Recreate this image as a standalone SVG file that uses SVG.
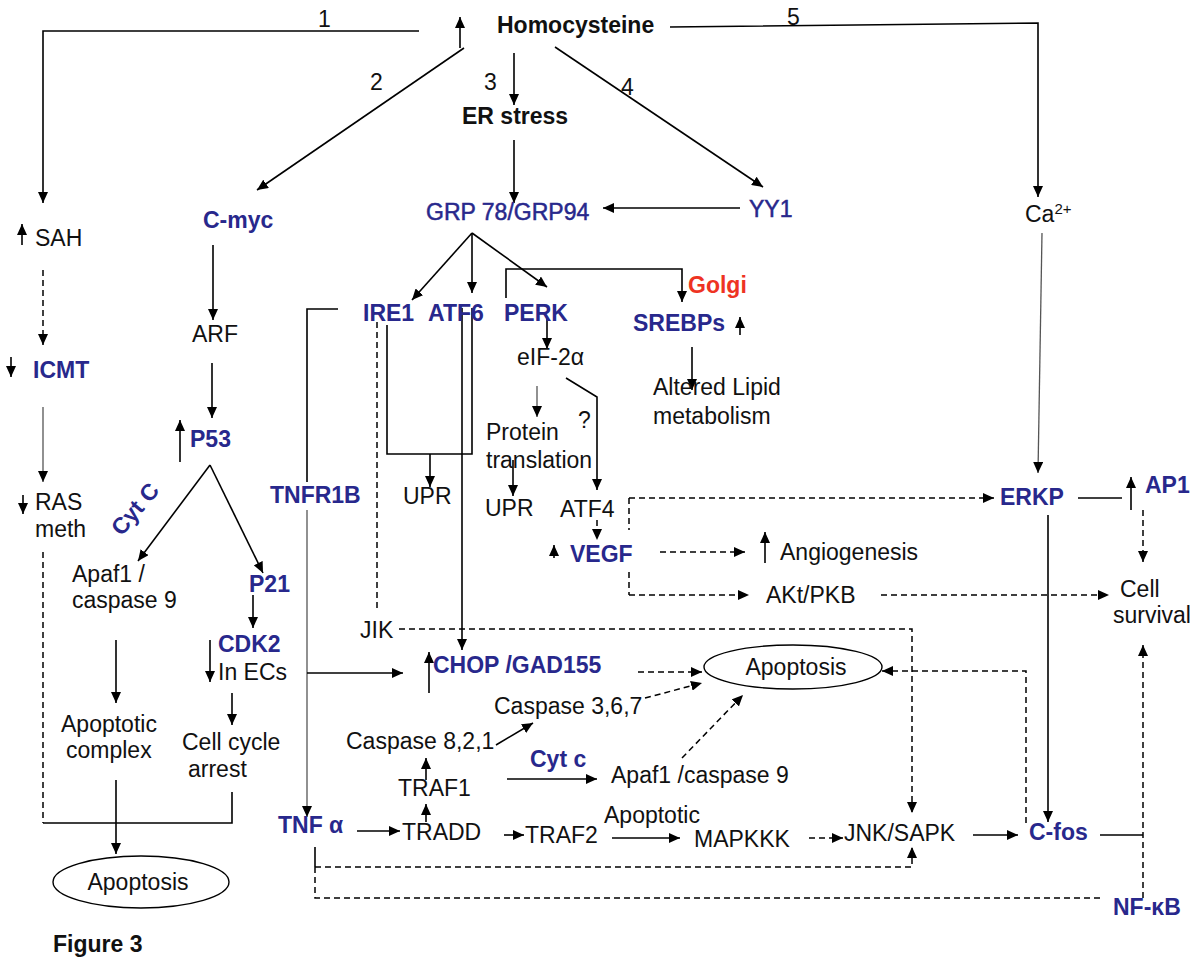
<svg xmlns="http://www.w3.org/2000/svg" width="1200" height="977" viewBox="0 0 1200 977">
<defs>
<marker id="a" markerUnits="userSpaceOnUse" markerWidth="12" markerHeight="10" refX="11" refY="5" orient="auto"><path d="M0,0 L11,5 L0,10 z" fill="#000"/></marker>
<style>
text{font-family:"Liberation Sans",Arial,sans-serif;font-size:23px;fill:#111}
.b{font-weight:bold}
.u{fill:#28288c}
.s{stroke:#28288c;stroke-width:0.5}
.r{fill:#ee3322;font-weight:bold}
.l{fill:none;stroke:#000;stroke-width:1.6}
.g{fill:none;stroke:#555;stroke-width:1.3}
.d{fill:none;stroke:#000;stroke-width:1.5;stroke-dasharray:6,4}
.m{marker-end:url(#a)}
.e{fill:#fff;stroke:#000;stroke-width:1.4}
</style>
</defs>
<rect width="1200" height="977" fill="#fff"/>
<g id="connectors">
<path class="l m" d="M419,31 H43 V203"/>
<path class="l m" d="M464,48 L257,190"/>
<path class="l m" d="M514,53 V105"/>
<path class="l m" d="M555,47 L763,187"/>
<path class="l m" d="M670,27 L1038,23 V197"/>
<path class="l m" d="M514,140 V203"/>
<path class="l m" d="M740,208 H603"/>
<path class="l m" d="M472,233 L412,300"/>
<path class="l m" d="M472,233 V293"/>
<path class="l m" d="M472,233 L547,287"/>
<path class="l m" d="M506,298 V269 H682 V302"/>
<path class="l m" d="M692,347 V390"/>
<path class="l m" d="M213,245 V320"/>
<path class="l m" d="M212,363 V418"/>
<path class="l m" d="M210,465 L138,561"/>
<path class="l m" d="M210,465 L263,573"/>
<path class="l m" d="M253,595 V628"/>
<path class="l m" d="M116,640 V703"/>
<path class="l m" d="M232,693 V725"/>
<path class="l m" d="M116,780 V854"/>
<path class="d m" d="M43,270 V345"/>
<path class="g m" d="M43,407 V482"/>
<path class="d" d="M43,552 V823"/>
<path class="l" d="M43,823 H232 V792"/>
<path class="l" d="M338,309 H307 V482"/>
<path class="g m" d="M307,510 V817"/>
<path class="l m" d="M307,673 H403"/>
<path class="d" d="M377,322 V612"/>
<path class="l" d="M387,325 V454 H472 V308"/>
<path class="l m" d="M430,454 V487"/>
<path class="l m" d="M462,308 V650"/>
<path class="l m" d="M547,318 V349"/>
<path class="g m" d="M537,386 V417"/>
<path class="l m" d="M513,460 V496"/>
<path class="l m" d="M566,378 L597,397 V490"/>
<path class="d m" d="M597,520 V540"/>
<path class="d" d="M629,498 V530"/>
<path class="d" d="M629,572 V595"/>
<path class="d m" d="M629,498 H994"/>
<path class="d m" d="M629,595 H749"/>
<path class="d m" d="M660,552 H745"/>
<path class="d m" d="M881,595 H1109"/>
<path class="g m" d="M1042,233 L1038,473"/>
<path class="l" d="M1078,498 H1122"/>
<path class="d m" d="M1143,510 V562"/>
<path class="l m" d="M1048,515 V822"/>
<path class="d m" d="M399,629 H912 V813"/>
<path class="d m" d="M638,672 H702"/>
<path class="d m" d="M1026,823 V671 H882"/>
<path class="d m" d="M645,698 L702,683"/>
<path class="d m" d="M682,758 L743,695"/>
<path class="l m" d="M496,745 L533,723"/>
<path class="l m" d="M426,780 V758"/>
<path class="l m" d="M426,822 V804"/>
<path class="l m" d="M357,831 H400"/>
<path class="l m" d="M507,779 H597"/>
<path class="l m" d="M504,835 H524"/>
<path class="l m" d="M612,838 H680"/>
<path class="d m" d="M809,838 H843"/>
<path class="l" d="M315,847 V867"/>
<path class="d" d="M315,867 V898 H1100"/>
<path class="d m" d="M315,867 H912 V847"/>
<path class="l m" d="M973,835 H1018"/>
<path class="l" d="M1100,835 H1143"/>
<path class="d m" d="M1143,898 V645"/>
</g>
<g id="labels">
<text x="318" y="27">1</text>
<text x="370" y="90">2</text>
<text x="484" y="90">3</text>
<text x="621" y="95">4</text>
<text x="787" y="25">5</text>
</g>
<g id="homocysteine"><path class="l m" d="M460,48 V17"/><text class="b" x="497" y="33">Homocysteine</text></g>
<g id="er-stress"><text class="b" x="462" y="124">ER stress</text></g>
<g id="grp"><text class="u s" x="426" y="220">GRP 78/GRP94</text></g>
<g id="yy1"><text class="u s" x="749" y="217" font-size="24">YY1</text></g>
<g id="cmyc"><text class="u b" x="203" y="228">C-myc</text></g>
<g id="sah"><path class="l m" d="M22,245 V224"/><text x="35" y="246">SAH</text></g>
<g id="icmt"><path class="l m" d="M11,357 V377"/><text class="u b" x="33" y="378">ICMT</text></g>
<g id="ras"><path class="l m" d="M23,495 V514"/><text x="35" y="510">RAS</text><text x="35" y="537">meth</text></g>
<g id="arf"><text x="192" y="342">ARF</text></g>
<g id="p53"><path class="l m" d="M180,462 V420"/><text class="u b" x="190" y="447">P53</text></g>
<g id="cytC"><text class="u b" text-anchor="middle" transform="translate(141,514) rotate(-50)">Cyt C</text></g>
<g id="apaf1-left"><text x="72" y="582">Apaf1 /</text><text x="72" y="608">caspase 9</text></g>
<g id="p21"><text class="u b" x="249" y="592">P21</text></g>
<g id="cdk2"><path class="l m" d="M210,640 V682"/><text class="u b" x="218" y="652">CDK2</text><text x="218" y="680">In ECs</text></g>
<g id="apoptotic-complex"><text x="61" y="732">Apoptotic</text><text x="66" y="758">complex</text></g>
<g id="cell-cycle"><text x="182" y="750">Cell cycle</text><text x="188" y="777">arrest</text></g>
<g id="apoptosis-left"><ellipse class="e" cx="141" cy="882" rx="88" ry="26"/><text text-anchor="middle" x="138" y="890">Apoptosis</text></g>
<g id="figure"><text class="b" x="53" y="952">Figure 3</text></g>
<g id="tnfr1b"><text class="u b" x="270" y="503">TNFR1B</text></g>
<g id="ire1"><text class="u b" x="363" y="321">IRE1</text></g>
<g id="atf6"><text class="u b" x="428" y="321">ATF6</text></g>
<g id="perk"><text class="u b" x="504" y="321">PERK</text></g>
<g id="golgi"><text class="r" x="688" y="293">Golgi</text></g>
<g id="srebps"><text class="u b" x="633" y="331">SREBPs</text><path class="l m" d="M740,335 V317"/></g>
<g id="lipid"><text x="653" y="395">Altered Lipid</text><text x="653" y="424">metabolism</text></g>
<g id="eif"><text x="517" y="365">eIF-2α</text></g>
<g id="protein"><text x="486" y="440">Protein</text><text x="486" y="468">translation</text></g>
<g id="q"><text x="578" y="428">?</text></g>
<g id="upr1"><text x="403" y="504">UPR</text></g>
<g id="upr2"><text x="485" y="516">UPR</text></g>
<g id="atf4"><text x="560" y="517">ATF4</text></g>
<g id="vegf"><path class="l m" d="M554,558 V545"/><text class="u b" x="570" y="562">VEGF</text></g>
<g id="angio"><path class="l m" d="M765,563 V532"/><text x="780" y="560">Angiogenesis</text></g>
<g id="akt"><text x="766" y="603">AKt/PKB</text></g>
<g id="ca"><text x="1025" y="222">Ca<tspan font-size="15" dy="-8">2+</tspan></text></g>
<g id="erkp"><text class="u b" x="1000" y="505">ERKP</text></g>
<g id="ap1"><path class="l m" d="M1131,510 V477"/><text class="u b" x="1145" y="493">AP1</text></g>
<g id="survival"><text x="1120" y="597">Cell</text><text x="1113" y="623">survival</text></g>
<g id="jik"><text x="360" y="638">JIK</text></g>
<g id="chop"><path class="l m" d="M429,693 V652"/><text class="u b" x="433" y="673">CHOP /GAD155</text></g>
<g id="apoptosis-center"><ellipse class="e" cx="793" cy="667" rx="89" ry="22"/><text text-anchor="middle" x="796" y="675">Apoptosis</text></g>
<g id="casp367"><text x="494" y="714">Caspase 3,6,7</text></g>
<g id="casp821"><text x="346" y="749">Caspase 8,2,1</text></g>
<g id="cytc"><text class="u b" x="530" y="767">Cyt c</text></g>
<g id="apaf1-center"><text x="611" y="783">Apaf1 /caspase 9</text></g>
<g id="traf1"><text x="398" y="796">TRAF1</text></g>
<g id="tradd"><text x="402" y="840">TRADD</text></g>
<g id="tnfa"><text class="u b" x="278" y="833">TNF α</text></g>
<g id="traf2"><text x="525" y="843">TRAF2</text></g>
<g id="mapkkk"><text x="604" y="823">Apoptotic</text><text x="694" y="847">MAPKKK</text></g>
<g id="jnk"><text x="844" y="841">JNK/SAPK</text></g>
<g id="cfos"><text class="u b" x="1029" y="840">C-fos</text></g>
<g id="nfkb"><text class="u b" x="1113" y="915">NF-κB</text></g>
</svg>
